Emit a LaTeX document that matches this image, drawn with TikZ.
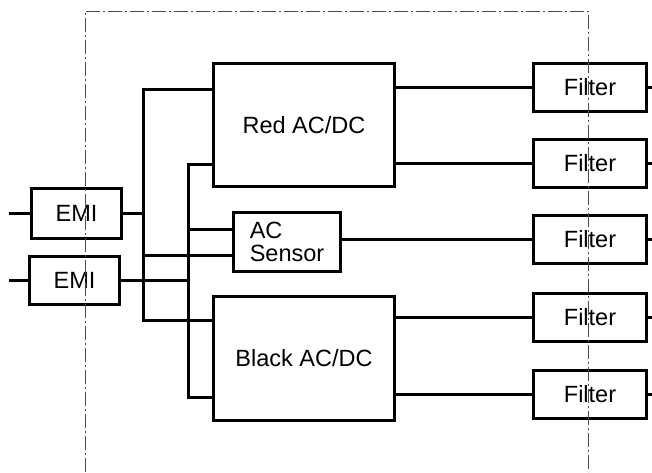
\documentclass[tikz,border=0pt]{standalone}
\usepackage{fontspec}
\setmainfont{Liberation Sans}
\usetikzlibrary{positioning}

\tikzset{
  unit/.style={draw, line width=3pt, inner sep=0pt, font=\fontsize{23.5}{23}\selectfont},
  emibox/.style={unit, minimum width=90pt, minimum height=50pt},
  conv/.style={unit, minimum width=181pt, minimum height=123pt},
  sensbox/.style={unit, minimum width=107pt, minimum height=59pt, align=left},
  filt/.style={unit, minimum width=113pt, minimum height=48pt},
  wire/.style={line width=3pt},
  frame/.style={gray!60!black, line width=1pt, dash pattern=on 14pt off 3pt on 2pt off 3pt}
}

\begin{document}
\begin{tikzpicture}[x=1pt, y=-1pt]
  \useasboundingbox (0,0) rectangle (652,472);

  % input side
  \node[emibox] (EMI1) at (76.5,213.5) {EMI};
  \node[emibox, minimum height=48pt] (EMI2) at (74.5,280.5) {EMI};
  \coordinate (in1) at (9,213.5);
  \coordinate (in2) at (9,280.5);
  \draw[wire] (in1) -- (EMI1.west);
  \draw[wire] (in2) -- (EMI2.west);

  % converters and sensor
  \node[conv] (Red) at (304,125) {Red AC/DC};
  \node[conv, minimum height=124pt] (Black) at (304,358.5) {Black AC/DC};
  \node[sensbox] (Sensor) at (287,242) {AC\\Sensor};

  % feed from first EMI
  \coordinate (a1) at (143,89);
  \coordinate (a2) at (143,320);
  \coordinate (a3) at (143,255);
  \draw[wire] (EMI1.east) -- (EMI1.east -| a1);
  \draw[wire] (Red.west |- a1) -- (a1) -- (a2) -- (Black.west |- a2);
  \draw[wire] (a3) -- (Sensor.west |- a3);

  % feed from second EMI
  \coordinate (b1) at (188,164);
  \coordinate (b2) at (188,397);
  \coordinate (b3) at (188,229);
  \draw[wire] (EMI2.east) -- (EMI2.east -| b1);
  \draw[wire] (Red.west |- b1) -- (b1) -- (b2) -- (Black.west |- b2);
  \draw[wire] (b3) -- (Sensor.west |- b3);

  % output filters
  \coordinate (edge) at (652,0);
  \foreach \i/\y in {1/87,2/163,3/239,4/317,5/394}{
    \node[filt] (F\i) at (590,\y) {Filter};
    \draw[wire] (F\i.east) -- (F\i.east -| edge);
  }
  \draw[wire] (Red.east |- F1) -- (F1);
  \draw[wire] (Red.east |- F2) -- (F2);
  \draw[wire] (Sensor.east |- F3) -- (F3);
  \draw[wire] (Black.east |- F4) -- (F4);
  \draw[wire] (Black.east |- F5) -- (F5);

  % enclosure boundary
  \draw[frame] (85,472) -- (85,11) -- (588,11) -- (588,472);
\end{tikzpicture}
\end{document}
